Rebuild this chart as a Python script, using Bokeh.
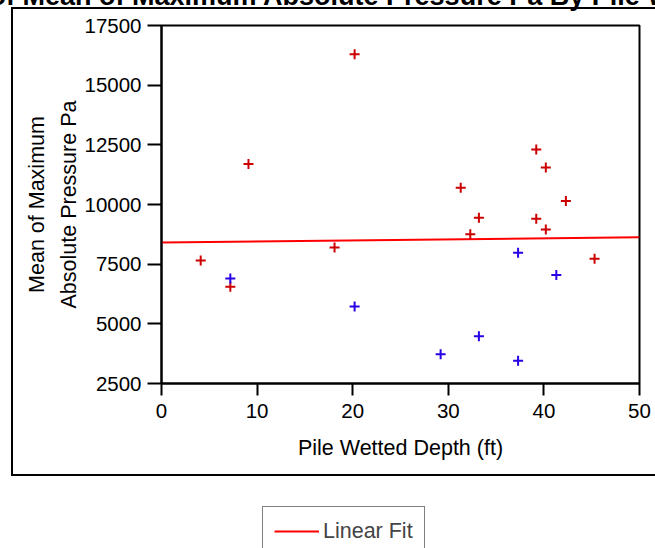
from bokeh.plotting import figure
from bokeh.layouts import column
from bokeh.models import (Range1d, FixedTicker, Legend, LegendItem)
from bokeh.embed import file_html
from bokeh.resources import INLINE

# ---- data ----
red_x = [4.1, 7.2, 9.1, 18.1, 20.2, 31.3, 32.3, 33.2, 39.2, 39.2, 40.2, 40.2, 42.3, 45.3]
red_y = [7650, 6550, 11700, 8200, 16300, 10700, 8750, 9450, 12300, 9400, 11550, 8950, 10150, 7725]
blue_x = [7.2, 20.2, 29.2, 33.2, 37.3, 37.3, 41.3]
blue_y = [6900, 5725, 3725, 4475, 7975, 3450, 7050]
fit_x = [0, 50]
fit_y = [8405, 8625]
x_ticks = [0, 10, 20, 30, 40, 50]
y_ticks = [2500, 5000, 7500, 10000, 12500, 15000, 17500]

title_text = "Bivariate Fit of Mean of Maximum Absolute Pressure Pa By Pile Wetted Depth (ft)"
x_label = "Pile Wetted Depth (ft)"
y_label = "Mean of Maximum\nAbsolute Pressure Pa"
legend_label = "Linear Fit"

FONT = "Liberation Sans"
SHIFT = 36  # page is shifted up/left so the clipped report title can show
W = 655 + SHIFT

p = figure(width=W, height=500 + SHIFT, output_backend="svg", toolbar_location=None,
           x_range=Range1d(0, 50), y_range=Range1d(2500, 17500),
           min_border_left=197, min_border_right=16, min_border_top=60, min_border_bottom=117)
p.stylesheets = [
    ":host::after { content: ''; position: absolute; left: 47px; top: 43px; "
    "width: 644px; height: 469px; border: 2px solid black; border-right: none; "
    "box-sizing: border-box; pointer-events: none; }"
]

p.xgrid.visible = False
p.ygrid.visible = False
p.outline_line_color = "black"
p.outline_line_width = 2
p.background_fill_color = "white"
p.border_fill_color = "white"

# report title (only its lower edge shows in the reference)
p.title.text = title_text
p.title.text_font = FONT
p.title.text_font_size = "27px"
p.title.text_font_style = "bold"
p.title.text_color = "black"
p.title.align = "left"
p.title.offset = -334
p.title.standoff = 29
p.title.vertical_align = "bottom"

for ax in (p.xaxis[0], p.yaxis[0]):
    ax.axis_line_width = 2
    ax.major_tick_line_width = 2
    ax.major_tick_in = 0
    ax.minor_tick_line_color = None
    ax.major_label_text_font = FONT
    ax.major_label_text_font_size = "20.5px"
    ax.major_label_text_color = "black"
    ax.axis_label_text_font = FONT
    ax.axis_label_text_font_size = "21.5px"
    ax.axis_label_text_font_style = "normal"
    ax.axis_label_text_color = "black"

p.xaxis[0].ticker = FixedTicker(ticks=x_ticks)
p.yaxis[0].ticker = FixedTicker(ticks=y_ticks)
p.xaxis[0].major_tick_out = 12
p.yaxis[0].major_tick_out = 14
p.xaxis[0].major_label_standoff = 8
p.yaxis[0].major_label_standoff = 6
p.xaxis[0].axis_label = x_label
p.yaxis[0].axis_label = y_label
p.xaxis[0].axis_label_standoff = 15
p.yaxis[0].axis_label_standoff = 0
p.yaxis[0].axis_label_text_line_height = 1.35

p.line(fit_x, fit_y, line_color="#ff0000", line_width=2)
p.scatter(red_x, red_y, marker="cross", size=10, line_width=2, line_color="#cc0000")
p.scatter(blue_x, blue_y, marker="cross", size=10, line_width=2, line_color="#2a00e6")

# legend strip below the report box
lf = figure(width=W, height=48, output_backend="svg", toolbar_location=None,
            x_range=Range1d(100, 101), y_range=Range1d(0, 1),
            x_axis_type=None, y_axis_type=None,
            min_border_left=0, min_border_right=0, min_border_top=0, min_border_bottom=0)
lf.xgrid.visible = False
lf.ygrid.visible = False
lf.outline_line_color = None
lf.border_fill_color = "white"
lf_fit = lf.line(fit_x, fit_y, line_color="#ff0000", line_width=2)
legend = Legend(items=[LegendItem(label=legend_label, renderers=[lf_fit])],
                location=(101, -8), orientation="vertical",
                padding=11, spacing=0, margin=0, glyph_width=45, glyph_height=26,
                label_height=26, label_standoff=4,
                label_text_font=FONT, label_text_font_size="21.5px",
                border_line_color="black", border_line_width=1.5,
                background_fill_alpha=1.0)
lf.add_layout(legend, "center")

page = column(p, lf, spacing=0)
page.styles = {"margin": f"-{SHIFT}px"}

open("out.html", "w").write(file_html(page, INLINE))
